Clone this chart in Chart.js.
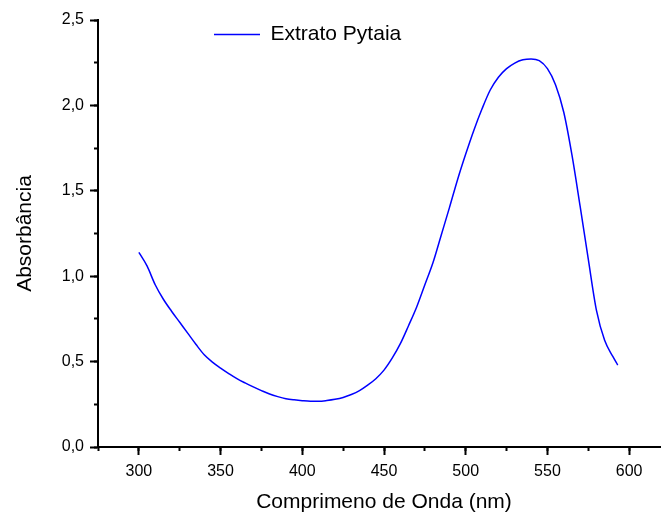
<!DOCTYPE html>
<html>
<head>
<meta charset="utf-8">
<script src="https://cdn.jsdelivr.net/npm/chart.js@4"></script>
<style>
  html, body { margin: 0; padding: 0; background: #fff; overflow: hidden; }
  #wrap { width: 661px; height: 513px; overflow: hidden; }
</style>
</head>
<body>
<div id="wrap"><canvas id="absChart" width="672" height="513"></canvas></div>
<script>
// wavelength (nm) and absorbance
const wavelengths = [300, 305, 310, 315, 320, 325, 330, 335, 340, 345, 350, 355, 360, 365, 370, 375, 380, 385, 390, 395,
  400, 405, 410, 415, 420, 425, 430, 435, 440, 445, 450, 455, 460, 465, 470, 475, 480, 485, 490, 495,
  500, 505, 510, 515, 520, 525, 530, 535, 540, 545, 550, 555, 560, 565, 570, 575, 580, 585, 590, 593];
const absorbance = [1.14, 1.06, 0.95, 0.865, 0.795, 0.73, 0.665, 0.60, 0.54, 0.497, 0.462, 0.43, 0.40, 0.375, 0.352, 0.33, 0.31, 0.295, 0.283, 0.276,
  0.271, 0.268, 0.268, 0.272, 0.279, 0.29, 0.307, 0.33, 0.362, 0.40, 0.45, 0.52, 0.605, 0.71, 0.82, 0.95, 1.08, 1.24, 1.40, 1.565,
  1.715, 1.855, 1.98, 2.09, 2.165, 2.215, 2.248, 2.267, 2.272, 2.262, 2.215, 2.12, 1.96, 1.71, 1.41, 1.10, 0.80, 0.625, 0.53, 0.48];

const xMajorTicks = [300, 350, 400, 450, 500, 550, 600];
const xMinorTicks = [275, 300, 325, 350, 375, 400, 425, 450, 475, 500, 525, 550, 575, 600, 625];
const yMajorTicks = [0, 0.5, 1.0, 1.5, 2.0, 2.5];
const yMinorTicks = [0, 0.25, 0.5, 0.75, 1.0, 1.25, 1.5, 1.75, 2.0, 2.25, 2.5];

const seriesLabel = 'Extrato Pytaia';
const xTitle = 'Comprimeno de Onda (nm)';
const yTitle = 'Absorbância';

Chart.defaults.font.family = '"Liberation Sans", Arial, sans-serif';
Chart.defaults.color = '#000';

// put the legend inside the plot, near the top
const legendPlace = {
  id: 'legendPlace',
  afterLayout(chart) {
    const lg = chart.legend;
    if (!lg) return;
    lg.left = 204; lg.right = 520;
    lg.top = 14; lg.bottom = 60;
  }
};

const ctx = document.getElementById('absChart');

new Chart(ctx, {
  type: 'line',
  data: {
    datasets: [{
      label: seriesLabel,
      data: wavelengths.map((w, i) => ({ x: w, y: absorbance[i] })),
      borderColor: '#0000ff',
      borderWidth: 1.5,
      pointRadius: 0,
      cubicInterpolationMode: 'monotone',
      fill: false
    }]
  },
  options: {
    responsive: false,
    animation: false,
    devicePixelRatio: 1,
    layout: { padding: { left: 0, right: 2, top: 20, bottom: 0 } },
    plugins: {
      legend: {
        position: 'chartArea',
        align: 'start',
        labels: {
          usePointStyle: true,
          pointStyle: 'line',
          pointStyleWidth: 46,
          padding: 10,
          font: { size: 21 },
          color: '#000'
        }
      },
      tooltip: { enabled: false }
    },
    scales: {
      xMinor: {
        type: 'linear', position: 'bottom', weight: 0,
        min: 275, max: 625,
        afterBuildTicks: (s) => { s.ticks = xMinorTicks.map(v => ({ value: v })); },
        afterFit: (s) => { s.height = 0; },
        ticks: { display: false },
        grid: { drawOnChartArea: false, tickLength: 4, tickWidth: 2, tickColor: '#000' },
        border: { display: false }
      },
      x: {
        type: 'linear', position: 'bottom', weight: 1,
        min: 275, max: 625,
        afterBuildTicks: (s) => { s.ticks = xMajorTicks.map(v => ({ value: v })); },
        afterFit: (s) => { s.height = 66; },
        ticks: { padding: 7, font: { size: 16 }, callback: v => String(v) },
        grid: { drawOnChartArea: false, tickLength: 8, tickWidth: 2, tickColor: '#000' },
        border: { display: true, color: '#000', width: 2 },
        title: { display: true, text: xTitle, font: { size: 21, lineHeight: 1 }, padding: { top: 0, bottom: 0 } }
      },
      yMinor: {
        type: 'linear', position: 'left', weight: 0,
        min: 0, max: 2.5,
        afterBuildTicks: (s) => { s.ticks = yMinorTicks.map(v => ({ value: v })); },
        afterFit: (s) => { s.width = 0; },
        ticks: { display: false },
        grid: { drawOnChartArea: false, tickLength: 4, tickWidth: 2, tickColor: '#000' },
        border: { display: false }
      },
      y: {
        type: 'linear', position: 'left', weight: 1,
        min: 0, max: 2.5,
        afterBuildTicks: (s) => { s.ticks = yMajorTicks.map(v => ({ value: v })); },
        afterFit: (s) => { s.width = 98; },
        ticks: { padding: 6, font: { size: 16 }, callback: v => v.toFixed(1).replace('.', ',') },
        grid: { drawOnChartArea: false, tickLength: 8, tickWidth: 2, tickColor: '#000' },
        border: { display: true, color: '#000', width: 2 },
        title: { display: true, text: yTitle, font: { size: 21, lineHeight: 1 }, padding: { top: 15, bottom: 0 } }
      }
    }
  },
  plugins: [legendPlace]
});
</script>
</body>
</html>
